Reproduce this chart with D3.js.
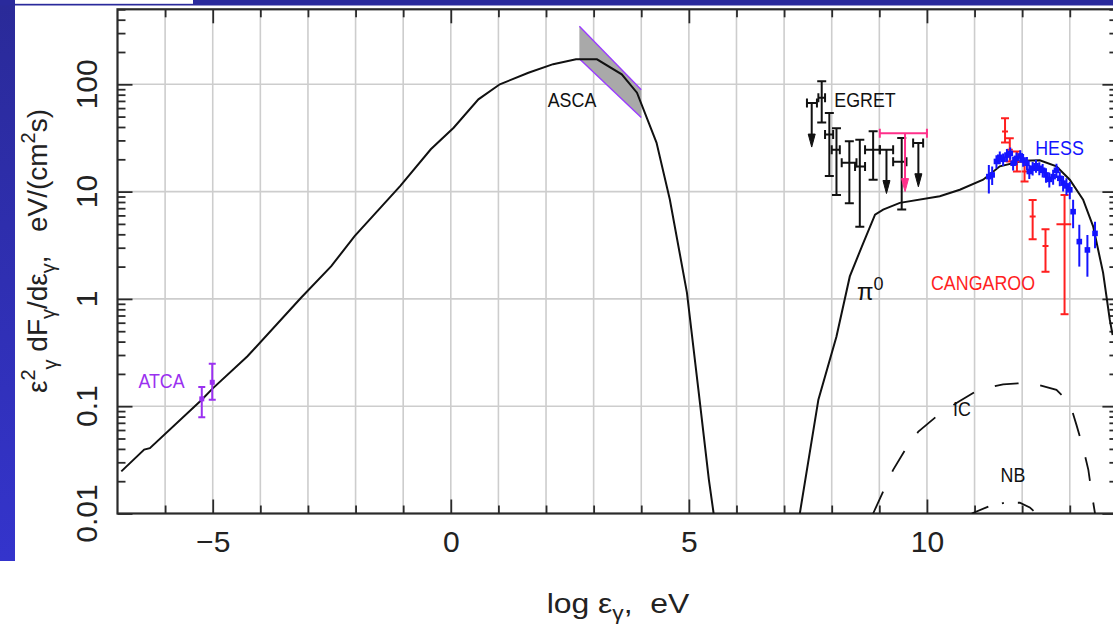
<!DOCTYPE html>
<html>
<head>
<meta charset="utf-8">
<script src="https://cdn.jsdelivr.net/npm/d3@7"></script>
<style>
  body { margin: 0; background: #fff; }
  svg { display: block; font-family: "Liberation Sans", Arial, sans-serif; }
</style>
</head>
<body>
<svg id="chart" width="1113" height="630"></svg>
<script>
// ---- axis ticks ----
const xMajorTicks = [-5, 0, 5, 10];
const xTickLabels = ["\u22125", "0", "5", "10"];
const yMajorTicks = [0.01, 0.1, 1, 10, 100];
const yTickLabels = ["0.01", "0.1", "1", "10", "100"];

// ---- synchrotron model curve ----
const synchX = [-6.92, -6.44, -6.32, -5.23, -5.01, -4.27, -3.15, -2.51, -2.02, -1.06, -0.42, 0.06, 0.58, 1.03, 1.63, 2.15, 2.63, 3.07, 3.59, 3.91, 4.32, 4.60, 4.96, 5.20, 5.42, 5.52];
const synchY = [0.0247, 0.0394, 0.0406, 0.115, 0.145, 0.292, 1.02, 2.02, 3.85, 11.3, 24.8, 39.4, 72.4, 100, 128, 154, 171, 171, 124, 83.6, 28.6, 8.45, 1.14, 0.143, 0.0207, 0.01];

// ---- pi0-decay model curve ----
const pionX = [7.33, 7.72, 8.10, 8.38, 8.66, 8.91, 9.08, 9.43, 10.27, 10.69, 11.18, 11.53, 12.02, 12.37, 12.72, 13.0, 13.28, 13.49, 13.70, 13.84, 13.90];
const pionY = [0.01, 0.115, 0.447, 1.62, 3.3, 6.1, 6.8, 7.85, 9.04, 10.4, 12.9, 17.2, 19.4, 19.6, 17.2, 12.9, 8.4, 4.74, 1.75, 0.64, 0.46];

// ---- inverse Compton (dashed) ----
const icX = [8.87, 9.08, 9.29, 9.54, 9.82, 10.24, 10.62, 11.08, 11.6, 12.16, 12.72, 13.0, 13.14, 13.28, 13.39, 13.46, 13.53];
const icY = [0.01, 0.016, 0.0255, 0.039, 0.058, 0.083, 0.107, 0.142, 0.16, 0.166, 0.142, 0.107, 0.067, 0.041, 0.0255, 0.0155, 0.01];

// ---- non-thermal bremsstrahlung (dash-dot) ----
const nbX = [10.94, 11.29, 11.62, 11.95, 12.16, 12.30];
const nbY = [0.01, 0.0116, 0.0126, 0.0126, 0.0114, 0.01];

// ---- ASCA X-ray band ----
const ascaX = [2.7, 4.0];
const ascaHi = [348, 89];
const ascaLo = [173, 49];

// ---- ATCA radio points ----
const atcaX = [-5.23, -5.01];
const atcaY = [0.117, 0.167];
const atcaLo = [0.079, 0.115];
const atcaHi = [0.151, 0.249];

// ---- EGRET points ----
const egretX = [7.79, 7.95, 8.10, 8.37, 8.59, 8.87, 9.47];
const egretXLo = [7.72, 7.86, 8.00, 8.21, 8.49, 8.70, 9.29];
const egretXHi = [7.86, 8.03, 8.17, 8.52, 8.70, 9.01, 9.57];
const egretY = [75, 34, 24.5, 18.6, 17.1, 24.5, 19];
const egretLo = [44, 14, 9.3, 7.8, 4.7, 12.9, 6.8];
const egretHi = [107, 54, 39, 29.5, 30.5, 36.5, 31.6];

// ---- EGRET upper limits ----
const egretUlX = [7.58, 9.15, 9.82];
const egretUlXLo = [7.48, 9.01, 9.71];
const egretUlXHi = [7.69, 9.29, 9.92];
const egretUlY = [67, 24.5, 28.4];
const egretUlTip = [26, 9.6, 11.1];

// ---- magenta upper limit ----
const magUlX = [9.54];
const magUlXLo = [9.01];
const magUlXHi = [10.0];
const magUlY = [35];
const magUlTip = [10];

// ---- HESS points ----
const hessX = [11.30, 11.37, 11.46, 11.53, 11.60, 11.68, 11.75, 11.81, 11.88, 11.96, 12.02, 12.10, 12.15, 12.22, 12.29, 12.36, 12.43, 12.50, 12.57, 12.65, 12.72, 12.79, 12.86, 12.93, 13.00, 13.07, 13.20, 13.37, 13.53];
const hessY = [13.8, 14.3, 19.1, 20.9, 20.0, 21.9, 22.7, 18.4, 20.4, 21.5, 19.7, 18.4, 15.4, 16.5, 17.4, 16.5, 15.8, 14.3, 13.0, 13.8, 15.8, 13.3, 12.0, 11.3, 10.4, 6.5, 3.42, 2.86, 4.08];
const hessLo = [9.6, 11.5, 16.4, 18.0, 17.3, 19.0, 19.8, 15.7, 17.6, 18.7, 17.0, 15.9, 13.1, 14.1, 15.0, 14.2, 13.5, 12.1, 10.9, 11.6, 13.4, 11.2, 10.0, 9.3, 8.5, 4.55, 2.0, 1.61, 2.96];
const hessHi = [17.7, 17.1, 21.8, 23.6, 22.7, 24.9, 25.8, 21.1, 23.2, 24.3, 22.4, 21.0, 17.7, 18.9, 19.8, 18.8, 18.1, 16.5, 15.1, 16.0, 18.2, 15.4, 14.0, 13.3, 12.3, 8.4, 4.9, 3.95, 5.25];

// ---- CANGAROO points ----
const cangX = [11.64, 11.74, 11.89, 12.05, 12.22, 12.49, 12.89];
const cangY = [36.3, 24.5, 19.1, 15.4, 5.85, 3.11, 4.95];
const cangLo = [28.7, 19.1, 15.4, 12.4, 3.59, 1.79, 0.72];
const cangHi = [48.3, 31.4, 23.6, 19.1, 8.36, 4.46, 9.3];
const cangXLo = [null, null, null, null, null, null, 12.72];
const cangXHi = [null, null, null, null, null, null, 13.03];

// ---- layout ----
const svg = d3.select("#chart");
const W = 1113, H = 630;
const plot = { left: 117.5, right: 1117.4, top: 9.3, bottom: 513.5 };

const x = d3.scaleLinear().domain([-7, 14]).range([plot.left, plot.right]);
const y = d3.scaleLog().domain([0.01, 500]).range([plot.bottom, plot.top]);

// slide frame: left strip and top bar
const defs = svg.append("defs");
const grad = defs.append("linearGradient").attr("id", "strip").attr("x1", 0).attr("y1", 0).attr("x2", 0).attr("y2", 1);
grad.append("stop").attr("offset", "0%").attr("stop-color", "#2a2a98");
grad.append("stop").attr("offset", "100%").attr("stop-color", "#3434cc");
svg.append("rect").attr("x", 0).attr("y", 0).attr("width", 15).attr("height", 561).attr("fill", "url(#strip)");
svg.append("rect").attr("x", 0).attr("y", 0).attr("width", W).attr("height", 5.5).attr("fill", "#2a2a9c");
svg.append("rect").attr("x", 15).attr("y", 0).attr("width", 178).attr("height", 3.8).attr("fill", "#fff");

defs.append("clipPath").attr("id", "plotClip").append("rect")
  .attr("x", plot.left).attr("y", plot.top).attr("width", plot.right - plot.left).attr("height", plot.bottom - plot.top);

// grid
const grid = svg.append("g").attr("stroke", "#cdcdcd").attr("stroke-width", 1.6);
d3.range(-6, 14).forEach(v => {
  grid.append("line").attr("x1", x(v)).attr("x2", x(v)).attr("y1", plot.top).attr("y2", plot.bottom);
});
yMajorTicks.slice(1).forEach(v => {
  grid.append("line").attr("x1", plot.left).attr("x2", plot.right).attr("y1", y(v)).attr("y2", y(v));
});

// axes via d3 axis generators, ticks drawn inward
const xMinor = d3.range(-6, 14).filter(v => !xMajorTicks.includes(v));
const yMinor = [];
for (let d = -2; d <= 2; d++) for (let m = 2; m <= 9; m++) { const v = m * Math.pow(10, d); if (v <= 500) yMinor.push(v); }

function styleAxis(g) {
  g.select(".domain").remove();
  g.selectAll("line").attr("stroke", "#2a2a2a").attr("stroke-width", 1.8);
}
const axisG = svg.append("g");
// bottom
axisG.append("g").attr("transform", `translate(0,${plot.bottom})`)
  .call(d3.axisBottom(x).tickValues(xMajorTicks).tickSize(-14).tickFormat((d, i) => xTickLabels[i]).tickPadding(17))
  .call(styleAxis)
  .call(g => g.selectAll("text").attr("font-size", 30).attr("fill", "#222").attr("font-family", "Liberation Sans, Arial, sans-serif"));
axisG.append("g").attr("transform", `translate(0,${plot.bottom})`)
  .call(d3.axisBottom(x).tickValues(xMinor).tickSize(-8).tickFormat(""))
  .call(styleAxis);
// top
axisG.append("g").attr("transform", `translate(0,${plot.top})`)
  .call(d3.axisTop(x).tickValues(xMajorTicks).tickSize(-14).tickFormat(""))
  .call(styleAxis);
axisG.append("g").attr("transform", `translate(0,${plot.top})`)
  .call(d3.axisTop(x).tickValues(xMinor).tickSize(-8).tickFormat(""))
  .call(styleAxis);
// left
axisG.append("g").attr("transform", `translate(${plot.left},0)`)
  .call(d3.axisLeft(y).tickValues(yMajorTicks).tickSize(-15).tickFormat(""))
  .call(styleAxis);
axisG.append("g").attr("transform", `translate(${plot.left},0)`)
  .call(d3.axisLeft(y).tickValues(yMinor).tickSize(-8).tickFormat(""))
  .call(styleAxis);
// right
axisG.append("g").attr("transform", `translate(${plot.right},0)`)
  .call(d3.axisRight(y).tickValues(yMajorTicks).tickSize(-15).tickFormat(""))
  .call(styleAxis);
axisG.append("g").attr("transform", `translate(${plot.right},0)`)
  .call(d3.axisRight(y).tickValues(yMinor).tickSize(-8).tickFormat(""))
  .call(styleAxis);

// y tick labels, rotated
yMajorTicks.forEach((v, i) => {
  svg.append("text").attr("transform", `translate(97,${y(v)}) rotate(-90)`)
    .attr("text-anchor", "middle").attr("font-size", 30).attr("fill", "#222").text(yTickLabels[i]);
});

// frame
svg.append("rect").attr("x", plot.left).attr("y", plot.top).attr("width", plot.right - plot.left).attr("height", plot.bottom - plot.top)
  .attr("fill", "none").attr("stroke", "#2a2a2a").attr("stroke-width", 2.2);

// marks layer
const marks = svg.append("g").attr("clip-path", "url(#plotClip)");
const line = d3.line().x(d => x(d[0])).y(d => y(d[1]));

// ASCA band
const band = d3.area().x(d => x(d[0])).y0(d => y(d[1])).y1(d => y(d[2]));
const ascaData = ascaX.map((v, i) => [v, ascaLo[i], ascaHi[i]]);
marks.append("path").attr("d", band(ascaData)).attr("fill", "#a9a9a9");
marks.append("path").attr("d", line(ascaX.map((v, i) => [v, ascaHi[i]]))).attr("fill", "none").attr("stroke", "#9b3cff").attr("stroke-width", 1.4);
marks.append("path").attr("d", line(ascaX.map((v, i) => [v, ascaLo[i]]))).attr("fill", "none").attr("stroke", "#9b3cff").attr("stroke-width", 1.4);

// model curves
marks.append("path").attr("d", line(synchX.map((v, i) => [v, synchY[i]]))).attr("fill", "none").attr("stroke", "#111").attr("stroke-width", 2);
marks.append("path").attr("d", line(pionX.map((v, i) => [v, pionY[i]]))).attr("fill", "none").attr("stroke", "#111").attr("stroke-width", 2);
marks.append("path").attr("d", line(icX.map((v, i) => [v, icY[i]]))).attr("fill", "none").attr("stroke", "#111").attr("stroke-width", 1.8).attr("stroke-dasharray", "24,22");
marks.append("path").attr("d", line(nbX.map((v, i) => [v, nbY[i]]))).attr("fill", "none").attr("stroke", "#111").attr("stroke-width", 1.8).attr("stroke-dasharray", "18,14,2,14");

// error-bar helpers
function yBar(g, xv, lo, hi, color, cap, w) {
  g.append("line").attr("x1", x(xv)).attr("x2", x(xv)).attr("y1", y(lo)).attr("y2", y(hi)).attr("stroke", color).attr("stroke-width", w);
  [lo, hi].forEach(v => g.append("line").attr("x1", x(xv) - cap).attr("x2", x(xv) + cap).attr("y1", y(v)).attr("y2", y(v)).attr("stroke", color).attr("stroke-width", w));
}
function xBar(g, yv, lo, hi, color, cap, w) {
  g.append("line").attr("x1", x(lo)).attr("x2", x(hi)).attr("y1", y(yv)).attr("y2", y(yv)).attr("stroke", color).attr("stroke-width", w);
  [lo, hi].forEach(v => g.append("line").attr("x1", x(v)).attr("x2", x(v)).attr("y1", y(yv) - cap).attr("y2", y(yv) + cap).attr("stroke", color).attr("stroke-width", w));
}
function arrowDown(g, xv, from, to, color, w) {
  const x0 = x(xv), y0 = y(from), y1 = y(to);
  g.append("line").attr("x1", x0).attr("x2", x0).attr("y1", y0).attr("y2", y1 - 10).attr("stroke", color).attr("stroke-width", w);
  g.append("path").attr("d", `M${x0 - 3.5},${y1 - 13} L${x0},${y1} L${x0 + 3.5},${y1 - 13} Z`).attr("fill", color).attr("stroke", color).attr("stroke-width", 1);
}

const pts = svg.append("g").attr("clip-path", "url(#plotClip)");

// ATCA
atcaX.forEach((v, i) => {
  yBar(pts, v, atcaLo[i], atcaHi[i], "#9a30f0", 3.5, 2);
  pts.append("rect").attr("x", x(v) - 2.5).attr("y", y(atcaY[i]) - 2.5).attr("width", 5).attr("height", 5).attr("fill", "#9a30f0");
});

// EGRET
egretX.forEach((v, i) => {
  yBar(pts, v, egretLo[i], egretHi[i], "#111", 4.5, 2);
  xBar(pts, egretY[i], egretXLo[i], egretXHi[i], "#111", 4.5, 2);
});
egretUlX.forEach((v, i) => {
  xBar(pts, egretUlY[i], egretUlXLo[i], egretUlXHi[i], "#111", 4.5, 2);
  arrowDown(pts, v, egretUlY[i], egretUlTip[i], "#111", 2);
});
magUlX.forEach((v, i) => {
  xBar(pts, magUlY[i], magUlXLo[i], magUlXHi[i], "#ff2f8a", 4.5, 2);
  arrowDown(pts, v, magUlY[i], magUlTip[i], "#ff2f8a", 2);
});

// CANGAROO
cangX.forEach((v, i) => {
  yBar(pts, v, cangLo[i], cangHi[i], "#ff1f1f", 4, 2);
  if (cangXLo[i] !== null) {
    pts.append("line").attr("x1", x(cangXLo[i])).attr("x2", x(cangXHi[i])).attr("y1", y(cangY[i])).attr("y2", y(cangY[i])).attr("stroke", "#ff1f1f").attr("stroke-width", 2);
  } else {
    pts.append("line").attr("x1", x(v) - 3).attr("x2", x(v) + 3).attr("y1", y(cangY[i])).attr("y2", y(cangY[i])).attr("stroke", "#ff1f1f").attr("stroke-width", 2);
  }
});

// HESS
hessX.forEach((v, i) => {
  pts.append("line").attr("x1", x(v)).attr("x2", x(v)).attr("y1", y(hessLo[i])).attr("y2", y(hessHi[i])).attr("stroke", "#1414ff").attr("stroke-width", 2);
  pts.append("rect").attr("x", x(v) - 2.8).attr("y", y(hessY[i]) - 2.8).attr("width", 5.6).attr("height", 5.6).attr("fill", "#1414ff");
});

// labels
function label(txt, cx, cy, size, color, sx) {
  const t = svg.append("text").attr("transform", `translate(${cx},${cy}) scale(${sx},1)`)
    .attr("text-anchor", "middle").attr("dominant-baseline", "central")
    .attr("font-size", size).attr("fill", color).text(txt);
  return t;
}
label("ATCA", 161.5, 380, 21, "#9a30f0", 0.85);
label("ASCA", 572, 99, 21, "#111", 0.85);
label("EGRET", 865, 99, 21, "#111", 0.85);
label("HESS", 1059.5, 147.5, 21, "#1414ff", 0.85);
label("CANGAROO", 983, 282, 21, "#ff1f1f", 0.85);
label("IC", 962, 408, 21, "#111", 0.85);
label("NB", 1013, 474, 21, "#111", 0.85);
// pi-zero label with superscript
const pi = svg.append("text").attr("x", 857).attr("y", 300).attr("font-size", 24).attr("fill", "#111");
pi.append("tspan").text("\u03c0");
pi.append("tspan").attr("font-size", 18).attr("dy", -10).text("0");

// y-axis title (non-breaking spaces keep the wide gap before the unit)
const yt = svg.append("text").attr("transform", "translate(47,251) rotate(-90)").attr("text-anchor", "middle")
  .attr("font-size", 28).attr("fill", "#222");
yt.append("tspan").text("\u03b5");
yt.append("tspan").attr("font-size", 20).attr("dy", -12).text("2");
yt.append("tspan").attr("font-size", 20).attr("dy", 22).text("\u03b3");
yt.append("tspan").attr("dy", -10).text("\u00a0dF");
yt.append("tspan").attr("font-size", 20).attr("dy", 8).text("\u03b3");
yt.append("tspan").attr("dy", -8).text("/d\u03b5");
yt.append("tspan").attr("font-size", 20).attr("dy", 8).text("\u03b3");
yt.append("tspan").attr("dy", -8).text(",\u00a0\u00a0\u00a0eV/(cm");
yt.append("tspan").attr("font-size", 20).attr("dy", -12).text("2");
yt.append("tspan").attr("dy", 12).text("s)");

// x-axis title, slightly widened lettering
const xt = svg.append("text").attr("transform", "translate(618,613) scale(1.14,1)").attr("text-anchor", "middle")
  .attr("font-size", 28).attr("fill", "#222");
xt.append("tspan").text("log\u00a0\u03b5");
xt.append("tspan").attr("font-size", 20).attr("dy", 7).text("\u03b3");
xt.append("tspan").attr("dy", -7).text(",\u00a0\u00a0eV");
</script>
</body>
</html>
